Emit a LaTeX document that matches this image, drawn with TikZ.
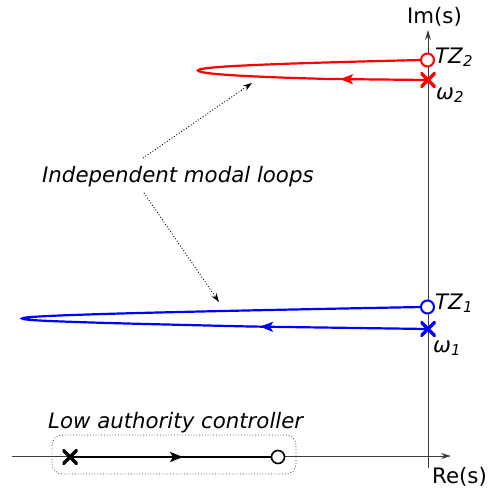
\documentclass[tikz,border=0pt]{standalone}
\usepackage{fontspec}
\setmainfont{DejaVu Sans}
\usetikzlibrary{arrows.meta,decorations.markings}
\definecolor{axisgray}{RGB}{60,60,60}
\tikzset{
  axisline/.style={draw=axisgray, line width=1pt},
  axistip/.style={-{Stealth[length=10pt,width=6pt]}},
  lbl/.style={inner sep=0pt, font=\fontsize{21.3}{26}\selectfont},
  zeromark/.style={circle, draw=#1, fill=white, line width=2pt, minimum size=13pt, inner sep=0pt},
  polemark/.style={minimum size=15pt, inner sep=0pt, path picture={
      \draw[#1, line width=3.5pt] (path picture bounding box.south west) -- (path picture bounding box.north east)
        (path picture bounding box.north west) -- (path picture bounding box.south east);}},
  loopline/.style={draw=#1, line width=2.2pt},
  midarrow/.style={postaction={decorate}, decoration={markings,
      mark=at position #1 with {\arrow{Stealth[length=13pt,width=10pt,inset=3pt]}}}},
  pointer/.style={draw=black, line width=0.9pt, dotted, -{Stealth[length=9pt,width=6pt]}},
  ctrlbox/.style={draw=axisgray, line width=0.8pt, dotted, rounded corners=10pt}
}
\begin{document}
\begin{tikzpicture}[x=1pt,y=-1pt]
\useasboundingbox (0,0) rectangle (493,490);
% axes
\coordinate (reS) at (12,456);
\coordinate (reE) at (451,456);
\coordinate (imS) at (428,468);
\coordinate (imE) at (428,30);
\draw[axisline, axistip] (reS) -- (reE);
\draw[axisline, axistip] (imS) -- (imE);
\node[lbl, anchor=base] (imlabel) at (434.5,23) {Im(s)};
\node[lbl, anchor=base west] (relabel) at (432,483) {Re(s)};

% controller box
\draw[ctrlbox] (52,435) rectangle (296,474);
\node[lbl, anchor=base west] (lowlabel) at (48,428) {\textit{Low authority controller}};
\node[zeromark=black, line width=1.6pt] (z0) at (278,457) {};
\node[polemark=black, minimum size=15pt] (p0) at (70,457) {};
\draw[draw=black, line width=2pt, midarrow=113pt] (p0.center) -- (z0.west);

% red loop
\coordinate (redtip) at (198,70.5);
\node[polemark=red] (p2) at (428,80) {};
\draw[loopline=red, midarrow=88pt] (p2.center) -- (330,79)
  .. controls (250,77) and (198,74) .. (redtip)
  .. controls (198,67) and (250,64) .. (422,60);
\node[zeromark=red] (z2) at (427.5,60) {};
\node[lbl, anchor=base west] (tz2) at (435,63) {\textit{TZ}\textsubscript{\textit{2}}};
\node[lbl, anchor=base west] (w2) at (436,99) {\textit{ω}\textsubscript{\textit{2}}};

% blue loop
\coordinate (bluetip) at (22,318.5);
\node[polemark=blue] (p1) at (428,329) {};
\draw[loopline=blue, midarrow=168pt] (p1.center) -- (250,326.5)
  .. controls (100,323) and (22,321) .. (bluetip)
  .. controls (22,316) and (100,313) .. (422,307);
\node[zeromark=blue] (z1) at (427.5,307) {};
\node[lbl, anchor=base west] (tz1) at (435,309) {\textit{TZ}\textsubscript{\textit{1}}};
\node[lbl, anchor=base west] (w1) at (433,352) {\textit{ω}\textsubscript{\textit{1}}};

% pointers
\node[lbl, anchor=base west] (indep) at (42,182) {\textit{Independent modal loops}};
\coordinate (ptA) at (252,83);
\coordinate (ptB) at (219,302);
\draw[pointer] (143,158) -- (ptA);
\draw[pointer] (144,193) -- (ptB);
\end{tikzpicture}
\end{document}
